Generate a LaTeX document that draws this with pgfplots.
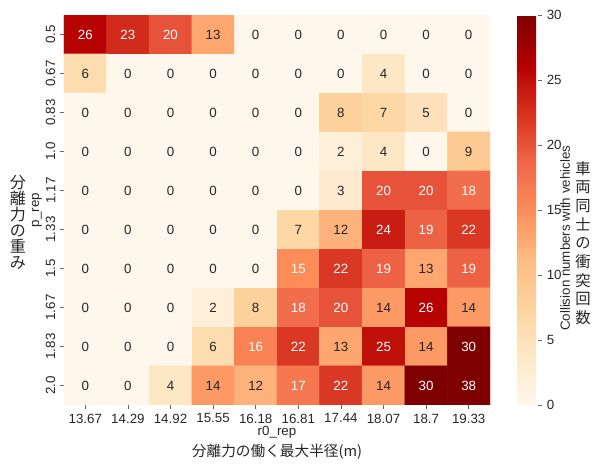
\documentclass[border=0pt]{standalone}
\usepackage{pgfplots}
\usepackage{pgfplotstable}
\pgfplotsset{compat=1.18}
\usepackage{fontspec}
\setmainfont{Liberation Sans}
\newfontfamily\cjk{Noto Sans CJK JP}
\pgfplotsset{
  colormap={orrd}{rgb255=(255,247,236) rgb255=(254,232,200) rgb255=(253,212,158) rgb255=(253,187,132) rgb255=(252,141,89) rgb255=(239,101,72) rgb255=(215,48,31) rgb255=(179,0,0) rgb255=(127,0,0)},
  /pgf/number format/assume math mode=true,
  every tick label/.append style={font=\fontsize{10}{12}\selectfont, text=black!85},
}
\pgfplotstableread{
x y z
0 0 26
1 0 23
2 0 20
3 0 13
4 0 0
5 0 0
6 0 0
7 0 0
8 0 0
9 0 0
0 1 6
1 1 0
2 1 0
3 1 0
4 1 0
5 1 0
6 1 0
7 1 4
8 1 0
9 1 0
0 2 0
1 2 0
2 2 0
3 2 0
4 2 0
5 2 0
6 2 8
7 2 7
8 2 5
9 2 0
0 3 0
1 3 0
2 3 0
3 3 0
4 3 0
5 3 0
6 3 2
7 3 4
8 3 0
9 3 9
0 4 0
1 4 0
2 4 0
3 4 0
4 4 0
5 4 0
6 4 3
7 4 20
8 4 20
9 4 18
0 5 0
1 5 0
2 5 0
3 5 0
4 5 0
5 5 7
6 5 12
7 5 24
8 5 19
9 5 22
0 6 0
1 6 0
2 6 0
3 6 0
4 6 0
5 6 15
6 6 22
7 6 19
8 6 13
9 6 19
0 7 0
1 7 0
2 7 0
3 7 2
4 7 8
5 7 18
6 7 20
7 7 14
8 7 26
9 7 14
0 8 0
1 8 0
2 8 0
3 8 6
4 8 16
5 8 22
6 8 13
7 8 25
8 8 14
9 8 30
0 9 0
1 9 0
2 9 4
3 9 14
4 9 12
5 9 17
6 9 22
7 9 14
8 9 30
9 9 38
}\heat
\begin{document}
\begin{tikzpicture}
\begin{axis}[name=main, scale only axis, width=319.5pt, height=292.5pt,
  xmin=-0.5, xmax=9.5, ymin=-0.5, ymax=9.5, y dir=reverse,
  axis line style={draw=none},
  xtick={0,...,9}, ytick={0,...,9},
  xticklabels={13.67,14.29,14.92,15.55,16.18,16.81,17.44,18.07,18.7,19.33},
  yticklabels={0.5,0.67,0.83,1.0,1.17,1.33,1.5,1.67,1.83,2.0},
  tick align=outside, major tick length=3pt, tick style={black!60, line width=0.6pt},
  xtick pos=bottom, ytick pos=left,
  yticklabel style={rotate=90, anchor=south},
  colormap name=orrd, point meta min=0, point meta max=30,
  colorbar,
  colorbar style={name=cb, width=15.75pt, at={(parent axis.north east)}, anchor=north west, xshift=11.75pt,
    ytick={0,5,...,30}, axis line style={draw=none}, tick align=outside, major tick length=3pt,
    tick style={black!60, line width=0.6pt}, ytick pos=right, yticklabel pos=right},
]
\addplot[matrix plot*, mesh/cols=10, point meta=explicit] table[x=x, y=y, meta=z] {\heat};
\addplot[only marks, mark=none, point meta=explicit,
  nodes near coords={\ifdim\pgfplotspointmetatransformed pt>483pt\color{white}\else\color{black!85}\fi\pgfmathprintnumber{\pgfplotspointmeta}},
  nodes near coords align=center,
  every node near coord/.append style={font=\fontsize{10}{12}\selectfont}]
  table[x=x, y=y, meta=z] {\heat};
\end{axis}
\node[rotate=90, font=\fontsize{10}{12}\selectfont, text=black!85] at ([xshift=-20.25pt]main.west) {p\_rep};
\node[align=center, inner sep=0pt, font=\cjk\fontsize{12}{12}\selectfont, text=black!85] at ([xshift=-34.5pt, yshift=-9pt]main.west) {分\\離\\力\\の\\重\\み};
\node[font=\fontsize{10}{12}\selectfont, text=black!85] at ([yshift=-20.25pt]main.south) {r0\_rep};
\node[font=\cjk\fontsize{11}{12}\selectfont, text=black!85] at ([yshift=-35.25pt]main.south) {分離力の働く最大半径(m)};
\node[rotate=90, font=\fontsize{10}{12}\selectfont, text=black!85] at ([xshift=20.25pt, yshift=125pt]cb.south east) {Collision numbers with vehicles};
\node[align=center, inner sep=0pt, font=\cjk\fontsize{11.5}{14}\selectfont, text=black!85] at ([xshift=33.75pt, yshift=121.5pt]cb.south east) {車\\両\\同\\士\\の\\衝\\突\\回\\数};
\pgfresetboundingbox
\path ([xshift=-48pt,yshift=-45.75pt]main.south west) rectangle ([xshift=396.75pt,yshift=303.75pt]main.south west);
\end{tikzpicture}
\end{document}
